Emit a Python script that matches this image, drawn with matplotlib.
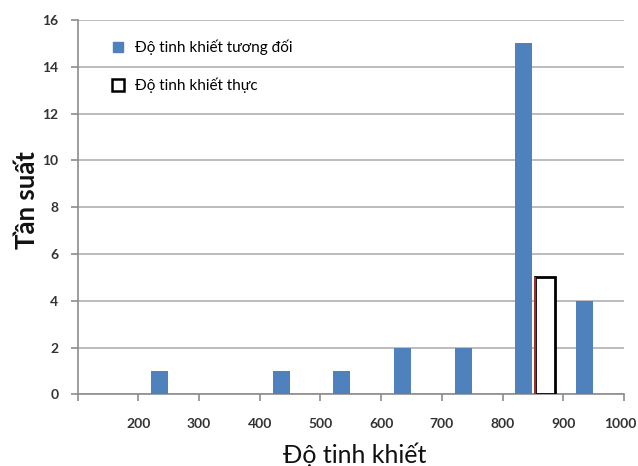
import matplotlib
matplotlib.use("Agg")
import matplotlib.pyplot as plt
import numpy as np
from matplotlib.lines import Line2D
from matplotlib.transforms import ScaledTranslation

plt.rcParams['font.family'] = ['Lato', 'Noto Sans', 'DejaVu Sans']

bins = [200, 300, 400, 500, 600, 700, 800, 900]
relative = [1, 0, 1, 1, 2, 2, 15, 4]
actual = [0, 0, 0, 0, 0, 0, 5, 0]
xticks = [100, 200, 300, 400, 500, 600, 700, 800, 900, 1000]
xticklabels = ['', '200', '300', '400', '500', '600', '700', '800', '900', '1000']
yticks = [0, 2, 4, 6, 8, 10, 12, 14, 16]

blue = '#4F81BD'
fig = plt.figure(figsize=(6.38, 4.66), dpi=100)
ax = fig.add_axes([0.1218, 0.1539, 0.8562, 0.8031])

b = np.array(bins, dtype=float)
rel = np.array(relative)
act = np.array(actual)
mask_r = rel > 0
ax.bar(b[mask_r] + 35, rel[mask_r], width=28, color=blue, zorder=3)
mask_a = act > 0
ax.bar(b[mask_a] + 70, act[mask_a], width=32, facecolor='white',
       edgecolor='black', linewidth=2, zorder=3)
ax.vlines(b[mask_a] + 70 - 16.8, 0, act[mask_a], color='#c0392b', linewidth=1.2, zorder=4)

ax.set_xlim(100, 1000)
ax.set_ylim(0, 16)
ax.set_xticks(xticks)
ax.set_xticklabels(xticklabels)
ax.set_yticks(yticks)
ax.yaxis.grid(True, color='#b0b0b0', linewidth=1.2, zorder=0)
ax.set_axisbelow(True)
for s in ['top', 'right']:
    ax.spines[s].set_visible(False)
for s in ['left', 'bottom']:
    ax.spines[s].set_color('#8c8c8c')
    ax.spines[s].set_linewidth(1.2)
ax.tick_params(axis='both', colors='#8c8c8c', length=5, width=1.2, labelcolor='#333333',
               labelsize=10)
for lbl in ax.get_xticklabels() + ax.get_yticklabels():
    lbl.set_fontweight('bold')
ax.tick_params(axis='x', pad=12)
ax.tick_params(axis='y', pad=9)
last = ax.get_xticklabels()[-1]
last.set_transform(last.get_transform() + ScaledTranslation(-4 / 100, 0, fig.dpi_scale_trans))

ax.set_xlabel('Độ tinh khiết', fontsize=18, color='#111111', va='top')
ax.xaxis.set_label_coords(0.5076, -0.128)
ax.set_ylabel('Tần suất', fontsize=18.5, fontweight='bold', color='#111111')
ax.yaxis.set_label_coords(-0.071, 0.519)

handles = [
    Line2D([], [], linestyle='none', marker='s', markersize=7, markerfacecolor=blue,
           markeredgecolor=blue),
    Line2D([], [], linestyle='none', marker='s', markersize=8, markerfacecolor='white',
           markeredgecolor='black', markeredgewidth=1.8),
]
ax.legend(handles, ['Độ tinh khiết tương đối', 'Độ tinh khiết thực'],
          loc='upper left', bbox_to_anchor=(0.035, 0.985), frameon=False,
          fontsize=11, labelspacing=1.5, handletextpad=0.6, handlelength=1.0)

fig.savefig('out.png', dpi=100)
